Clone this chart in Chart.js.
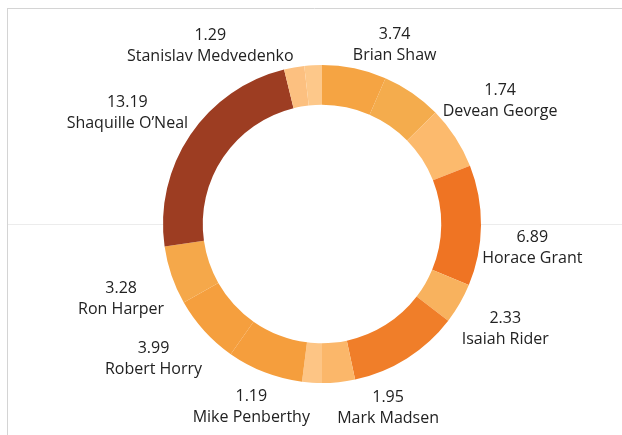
<!DOCTYPE html>
<html>
<head>
<meta charset="utf-8">
<script src="https://cdn.jsdelivr.net/npm/chart.js@4.4.1/dist/chart.umd.min.js"></script>
<style>
  html, body { margin: 0; padding: 0; background: #fff; }
  #wrap { position: relative; width: 622px; height: 435px; }
</style>
</head>
<body>
<div id="wrap"><canvas id="chart" width="622" height="435"></canvas></div>
<script>
// ===============================
// Data (slices clockwise from 12 o'clock)
// ===============================
const players = [
  "Brian Shaw", "", "Devean George", "Horace Grant", "Isaiah Rider", "",
  "Mark Madsen", "Mike Penberthy", "", "Robert Horry", "Ron Harper",
  "Shaquille O\u2019Neal", "Stanislav Medvedenko", ""
];
// size of each slice (read from the ring)
const shares = [3.68, 3.44, 3.60, 6.89, 2.33, 6.34, 1.88, 1.13, 4.35, 3.97, 3.36, 13.19, 1.16, 1.00];
// numbers printed in the labels
const labelValues = ["3.74", "", "1.74", "6.89", "2.33", "", "1.95", "1.19", "", "3.99", "3.28", "13.19", "1.29", ""];

const sliceColors = [
  "#F5A443", "#F4AC4D", "#FCBA6D", "#EF7423", "#F8B25E", "#F07E29", "#FBB76A",
  "#FDC585", "#F59E3D", "#F59F3E", "#F5A84A", "#9D3D22", "#FCC080", "#FDC88A"
];

// label placement tweaks: [angle shift in degrees, radial shift in px]
const labelNudge = [
  [8, -2], [0, 0], [-7, 0], [7, -13], [3, 0], [0, 0],
  [-11, 0], [14, 0], [0, 0], [-0.5, 6], [-4, 0], [1, 2], [-15, 5], [0, 0]
];

// ===============================
// Plugins
// ===============================
const frameAndHole = {
  id: "frameAndHole",
  beforeDatasetsDraw(chart) {
    const ctx = chart.ctx;
    const arc = chart.getDatasetMeta(0).data[0];
    ctx.save();
    ctx.lineWidth = 1;
    ctx.strokeStyle = "#d4d4d4";
    ctx.beginPath();
    ctx.moveTo(7, 8.5);
    ctx.lineTo(622, 8.5);
    ctx.moveTo(7.5, 8);
    ctx.lineTo(7.5, 435);
    ctx.stroke();
    ctx.strokeStyle = "#ececec";
    ctx.beginPath();
    ctx.moveTo(8, Math.round(arc.y) + 0.5);
    ctx.lineTo(622, Math.round(arc.y) + 0.5);
    ctx.stroke();
    ctx.fillStyle = "#fff";
    ctx.beginPath();
    ctx.arc(arc.x, arc.y, arc.innerRadius, 0, Math.PI * 2);
    ctx.fill();
    ctx.restore();
  },
};

const outsideLabels = {
  id: "outsideLabels",
  afterDatasetsDraw(chart) {
    const ctx = chart.ctx;
    const meta = chart.getDatasetMeta(0);
    ctx.save();
    ctx.font = "16px 'Open Sans'";
    ctx.fillStyle = "#222";
    ctx.textAlign = "center";
    ctx.textBaseline = "middle";
    meta.data.forEach((arc, i) => {
      if (!players[i]) return;
      const nudge = labelNudge[i];
      const a = (arc.startAngle + arc.endAngle) / 2 + (nudge[0] * Math.PI) / 180;
      const ra = arc.outerRadius + 16 + nudge[1];
      const hw = Math.max(ctx.measureText(players[i]).width, ctx.measureText(labelValues[i]).width) / 2;
      const hh = 17;
      const cx = arc.x + (ra + hw) * Math.cos(a);
      const cy = arc.y + (ra + hh) * Math.sin(a);
      ctx.fillText(labelValues[i], cx, cy - 10.5);
      ctx.fillText(players[i], cx, cy + 10.5);
    });
    ctx.restore();
  },
};

// ===============================
// Chart
// ===============================
new Chart(document.getElementById("chart"), {
  type: "doughnut",
  data: {
    labels: players,
    datasets: [
      {
        data: shares,
        backgroundColor: sliceColors,
        borderWidth: 0,
        hoverOffset: 0,
        offset: 0,
      },
    ],
  },
  options: {
    responsive: false,
    animation: false,
    cutout: "75%",
    layout: { padding: { top: 65, bottom: 52, left: 22, right: 0 } },
    plugins: { legend: { display: false }, tooltip: { enabled: false } },
  },
  plugins: [frameAndHole, outsideLabels],
});
</script>
</body>
</html>
